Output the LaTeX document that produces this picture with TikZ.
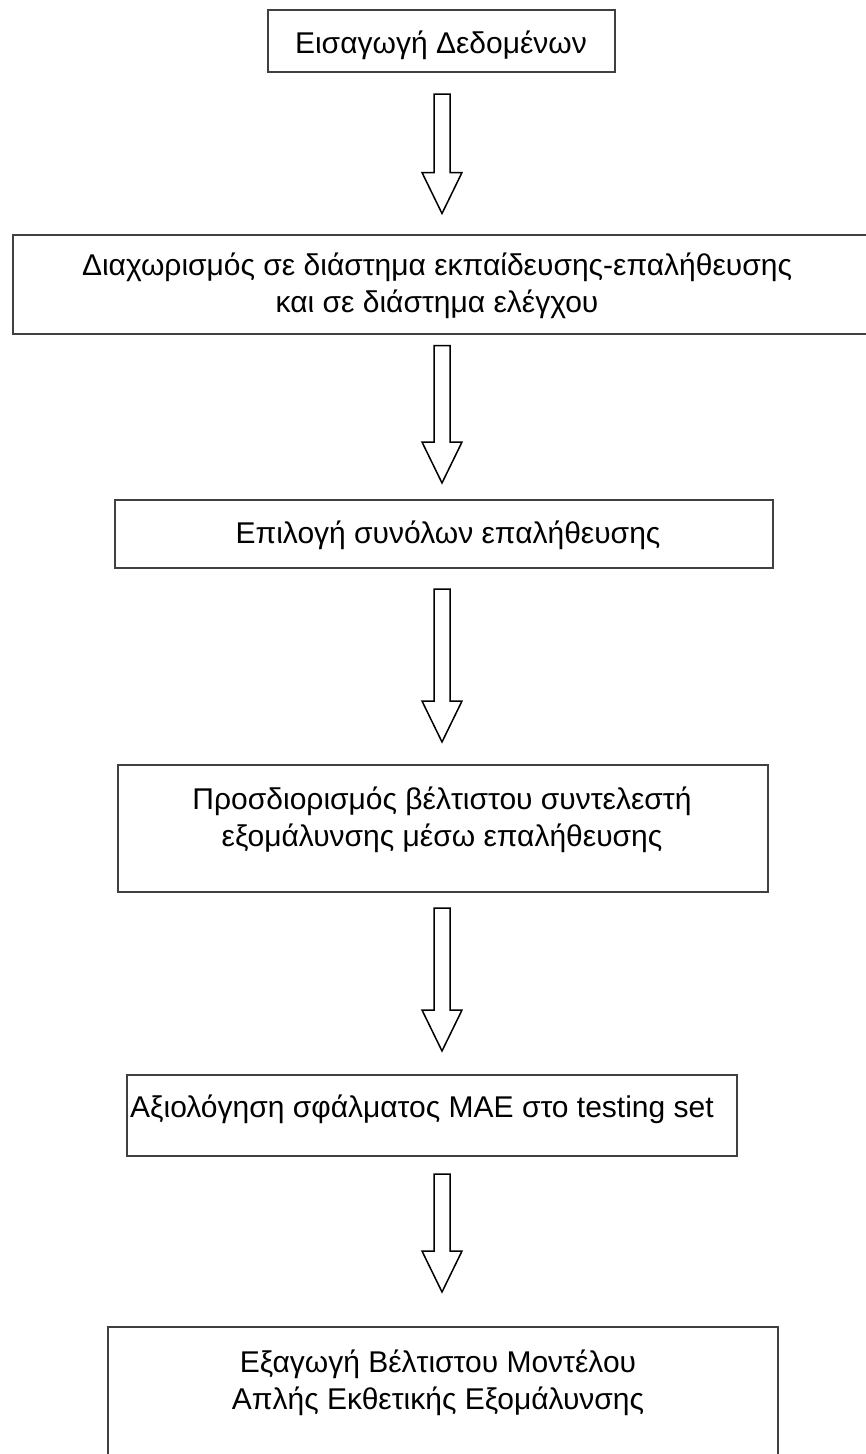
\documentclass[tikz,border=0pt]{standalone}
\usepackage{fontspec}
\setmainfont{Liberation Sans}
\usetikzlibrary{calc, positioning}

\tikzset{
  stepbox/.style={draw=black!75, line width=2pt, inner sep=0pt},
  steptext/.style={font=\fontsize{30}{37}\selectfont, align=center, inner sep=0pt},
  hollow/.style={draw=black, line width=1.5pt, fill=white, line join=miter},
}

% hollow block arrow between two boxes: from, to, top gap, bottom gap
\newcommand{\flowarrow}[4]{%
  \path ($(#1.south -| axis)+(0,#3)$) coordinate (#1-tail)
        ($(#2.north -| axis)+(0,-#4)$) coordinate (#2-tip);
  \draw[hollow] ([xshift=-8pt]#1-tail) -- ([xshift=8pt]#1-tail)
    -- ([xshift=8pt,yshift=41pt]#2-tip) -- ([xshift=20pt,yshift=41pt]#2-tip)
    -- (#2-tip) -- ([xshift=-20pt,yshift=41pt]#2-tip)
    -- ([xshift=-8pt,yshift=41pt]#2-tip) -- cycle;
}

\begin{document}
\begin{tikzpicture}[x=1pt, y=-1pt]
\useasboundingbox (0,0) rectangle (866,1454);
\coordinate (axis) at (442,0);

% boxes
\node[stepbox, minimum width=347pt, minimum height=62pt] (input) at (441.5,41) {};
\node[stepbox, minimum width=855pt, minimum height=99pt] (split) at (440.5,284) {};
\node[stepbox, minimum width=658pt, minimum height=68pt] (select) at (444,534) {};
\node[stepbox, minimum width=650pt, minimum height=127pt] (tune) at (443,828.5) {};
\node[stepbox, minimum width=610pt, minimum height=81pt] (evaluate) at (432,1115.5) {};
\node[stepbox, minimum width=670pt, minimum height=135pt] (export) at (443,1394.5) {};

% texts (base = last line)
\node[steptext, anchor=base] (inputlabel) at (441,53) {Εισαγωγή Δεδομένων};
\node[steptext, anchor=base] (splitlabel) at (437,312) {Διαχωρισμός σε διάστημα εκπαίδευσης-επαλήθευσης\\και σε διάστημα ελέγχου};
\node[steptext, anchor=base] (selectlabel) at (448,543) {Επιλογή συνόλων επαλήθευσης};
\node[steptext, anchor=base] (tunelabel) at (442,846) {Προσδιορισμός βέλτιστου συντελεστή\\ εξομάλυνσης μέσω επαλήθευσης};
\node[steptext, anchor=base west] (evaluatelabel) at (130,1117) {Αξιολόγηση σφάλματος MAE στο testing set};
\node[steptext, anchor=base] (exportlabel) at (438,1409) {Εξαγωγή Βέλτιστου Μοντέλου\\Απλής Εκθετικής Εξομάλυνσης};

% arrows
\flowarrow{input}{split}{21}{20}
\flowarrow{split}{select}{11}{16}
\flowarrow{select}{tune}{20}{22}
\flowarrow{tune}{evaluate}{15}{23}
\flowarrow{evaluate}{export}{17}{34}
\end{tikzpicture}
\end{document}
